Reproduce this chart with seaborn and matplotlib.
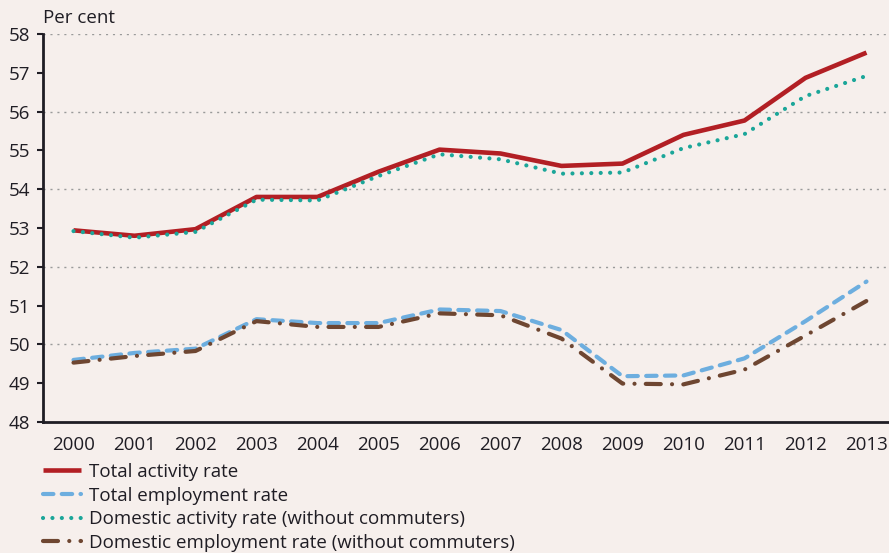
import numpy as np
import pandas as pd
import matplotlib
matplotlib.use("Agg")
import matplotlib.pyplot as plt
import seaborn as sns

years = [str(y) for y in range(2000, 2014)]
total_activity = [52.94, 52.80, 52.97, 53.80, 53.80, 54.45, 55.02, 54.92, 54.60, 54.66, 55.40, 55.77, 56.87, 57.52]
total_employment = [49.60, 49.78, 49.89, 50.65, 50.55, 50.55, 50.90, 50.86, 50.37, 49.18, 49.20, 49.64, 50.60, 51.62]
domestic_activity = [52.92, 52.75, 52.90, 53.73, 53.71, 54.34, 54.90, 54.77, 54.40, 54.43, 55.06, 55.42, 56.40, 56.92]
domestic_employment = [49.53, 49.70, 49.83, 50.60, 50.45, 50.45, 50.80, 50.75, 50.15, 48.99, 48.97, 49.35, 50.23, 51.12]

labels = ["Total activity rate", "Total employment rate",
          "Domestic activity rate (without commuters)",
          "Domestic employment rate (without commuters)"]

bg = "#F6EFEC"
ink = "#1F1D24"

sns.set_theme(style="white")
plt.rcParams["font.family"] = ["Open Sans", "DejaVu Sans"]

fig = plt.figure(figsize=(8.89, 5.53), dpi=100, facecolor=bg)
ax = fig.add_axes([43 / 889, 1 - 422 / 553, 854 / 889, 388 / 553], facecolor=bg)

x = np.arange(len(years))
series = [
    (total_activity, "#B21F24", "-", 3.3),
    (total_employment, "#6DAEDF", (0, (2.5, 2.0)), 3.0),
    (domestic_activity, "#1BA699", (0, (0.01, 2.25)), 3.0),
    (domestic_employment, "#6E4631", (0, (3.6, 2.7, 0.01, 2.7)), 3.0),
]
for (vals, col, ls, lw), lab in zip(series, labels):
    df = pd.DataFrame({"x": x, "y": vals})
    sns.lineplot(data=df, x="x", y="y", ax=ax, color=col, linestyle=ls,
                 linewidth=lw, label=lab, legend=False,
                 dash_capstyle="round", solid_capstyle="butt")

ax.set_xlim(-0.5, len(years) - 0.5)
ax.set_ylim(48, 58)
ax.set_yticks(range(48, 59))
ax.set_xticks(x)
ax.set_xticklabels(years)
ax.set_xticks(np.arange(-0.5, len(years), 1), minor=True)
ax.tick_params(axis="x", which="major", length=0, pad=10, labelsize=13.5, colors=ink)
ax.tick_params(axis="x", which="minor", length=5, width=1.5, color=ink, direction="out")
ax.tick_params(axis="y", length=4, width=1.5, color=ink, direction="out", pad=5,
               labelsize=13.5, labelcolor=ink, left=True)
ax.set_xlabel("")
ax.set_ylabel("")

for v in [50, 52, 54, 56, 58]:
    ax.axhline(v, color="#9A9A9A", linestyle=(0, (1.5, 3.5)), linewidth=1.0, zorder=0)

for s in ["top", "right"]:
    ax.spines[s].set_visible(False)
for s in ["left", "bottom"]:
    ax.spines[s].set_color(ink)
    ax.spines[s].set_linewidth(2)

fig.text(43 / 889, 1 - 18 / 553, "Per cent", fontsize=13.5, color=ink, va="center", ha="left")

handles, labs = ax.get_legend_handles_labels()
leg = fig.legend(handles, labs, loc="upper left", bbox_to_anchor=(43 / 889, 1 - 463 / 553),
                 frameon=False, fontsize=13.5, handlelength=2.0, handletextpad=0.45,
                 labelspacing=0.3, borderpad=0, borderaxespad=0)
for t in leg.get_texts():
    t.set_color(ink)

fig.savefig("out.png", dpi=100, facecolor=bg)
